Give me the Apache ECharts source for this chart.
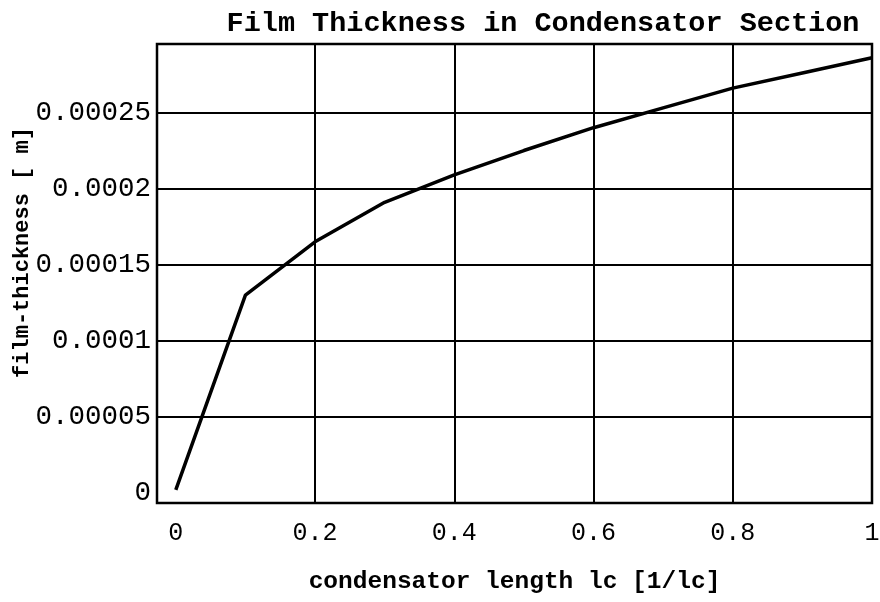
<!DOCTYPE html>
<html>
<head>
<meta charset="utf-8">
<script src="https://cdn.jsdelivr.net/npm/echarts@6/dist/echarts.min.js"></script>
<style>
  html, body { margin: 0; padding: 0; background: #fff; }
  #filmChart { width: 880px; height: 602px; }
</style>
</head>
<body>
<div id="filmChart"></div>
<script>
// condensator length (normalised) and film thickness [m]
const lengthPos = [0, 0.1, 0.2, 0.3, 0.4, 0.5, 0.6, 0.7, 0.8, 0.9, 1.0]
const thickness = [0.000002, 0.000130, 0.000165, 0.000191, 0.000209, 0.000225, 0.000240, 0.000253, 0.000266, 0.000276, 0.000286]
const xTicks = [0, 0.2, 0.4, 0.6, 0.8, 1]
const yTicks = [0, 0.00005, 0.0001, 0.00015, 0.0002, 0.00025]
const yTickLabels = ['0', '0.00005', '0.0001', '0.00015', '0.0002', '0.00025']
// grid lines are drawn at the inner ticks only (no line along 0)
const xGrid = [0.2, 0.4, 0.6, 0.8]
const yGrid = [0.00005, 0.0001, 0.00015, 0.0002, 0.00025]

const mono = '"Liberation Mono", "DejaVu Sans Mono", monospace'

const chart = echarts.init(document.getElementById('filmChart'))
chart.setOption({
  animation: false,
  title: {
    text: 'Film Thickness in Condensator Section',
    left: 538,
    top: 4,
    textAlign: 'center',
    textStyle: {
      fontFamily: mono,
      fontSize: 28.5,
      fontWeight: 'bold',
      color: '#000',
    },
  },
  grid: {
    left: 157,
    right: 8,
    top: 44,
    bottom: 99,
    outerBoundsMode: 'none',
    containLabel: false,
    show: true,
    borderColor: '#000',
    borderWidth: 2.5,
  },
  xAxis: {
    type: 'value',
    min: -0.027,
    max: 1,
    name: 'condensator length lc [1/lc]',
    nameLocation: 'middle',
    nameGap: 66,
    nameMoveOverlap: false,
    nameTextStyle: { fontFamily: mono, fontSize: 24.5, fontWeight: 'bold', color: '#000' },
    axisLine: { show: false },
    axisTick: { show: true, inside: true, length: 7, customValues: xGrid, lineStyle: { color: '#000', width: 2 } },
    axisLabel: {
      customValues: xTicks,
      margin: 18,
      fontFamily: mono,
      fontSize: 25,
      color: '#000',
      formatter: (v) => String(v),
    },
    splitLine: { show: true, lineStyle: { color: '#000', width: 2 } },
  },
  yAxis: {
    type: 'value',
    min: -0.0000066,
    max: 0.000295,
    name: 'film-thickness [ m]',
    nameLocation: 'middle',
    nameGap: 124,
    nameMoveOverlap: false,
    nameTextStyle: { fontFamily: mono, fontSize: 22, fontWeight: 'bold', color: '#000', padding: [0, 0, 0, 42] },
    axisLine: { show: false },
    axisTick: { show: true, inside: true, length: 7, customValues: yGrid, lineStyle: { color: '#000', width: 2 } },
    axisLabel: {
      customValues: yTicks,
      margin: 6,
      fontFamily: mono,
      fontSize: 27.5,
      color: '#000',
      formatter: (v) => {
        const i = yTicks.findIndex((t) => Math.abs(t - v) < 1e-9)
        return i >= 0 ? yTickLabels[i] : ''
      },
    },
    splitLine: { show: true, lineStyle: { color: '#000', width: 2 } },
  },
  series: [
    {
      type: 'line',
      data: lengthPos.map((x, i) => [x, thickness[i]]),
      showSymbol: false,
      lineStyle: { color: '#000', width: 3.5 },
    },
  ],
})
</script>
</body>
</html>
